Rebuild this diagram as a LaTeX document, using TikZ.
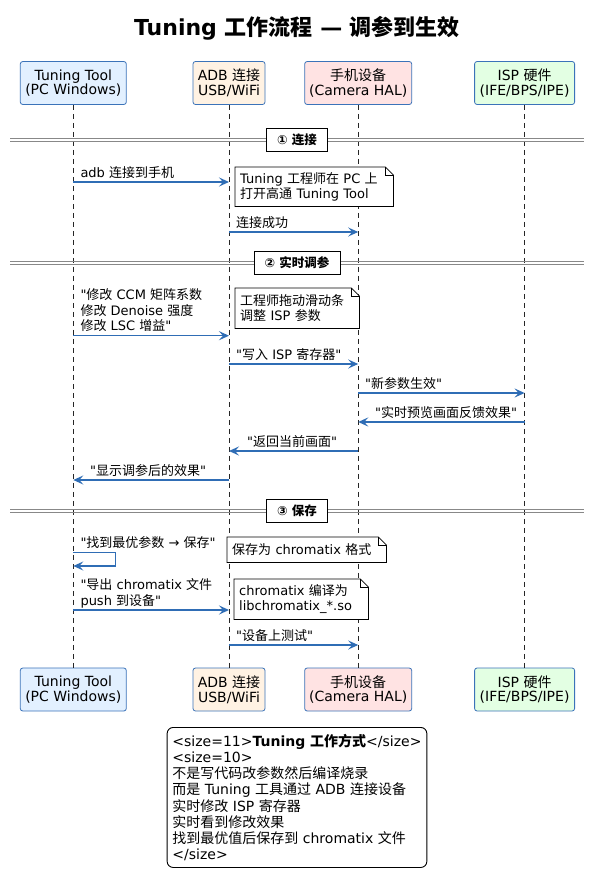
\documentclass[tikz,border=0pt]{standalone}
\usepackage{fontspec}
\setmainfont{DejaVu Sans}[Ligatures=TeXOff]
\newfontfamily\cjkfont{Noto Sans CJK SC}
\usetikzlibrary{arrows.meta}
\XeTeXinterchartokenstate=1
\newXeTeXintercharclass\CJKcls
\newcount\cjkcnt
\cjkcnt="4E00
\loop \XeTeXcharclass\cjkcnt=\CJKcls \ifnum\cjkcnt<"9FFF \advance\cjkcnt by 1 \repeat
\XeTeXinterchartoks 0 \CJKcls = {\cjkfont}
\XeTeXinterchartoks 4095 \CJKcls = {\cjkfont}
\XeTeXinterchartoks \CJKcls 0 = {\rmfamily}
\XeTeXinterchartoks \CJKcls 4095 = {\rmfamily}
\definecolor{pborder}{HTML}{3B73B9}
\definecolor{ttfill}{HTML}{E2F0FF}
\definecolor{adbfill}{HTML}{FFF2E3}
\definecolor{phfill}{HTML}{FFE3E3}
\definecolor{ispfill}{HTML}{E3FFE3}
\definecolor{arrowblue}{HTML}{2F6DB5}
\definecolor{divgray}{HTML}{888888}
\tikzset{
  part/.style={draw=pborder, line width=0.8pt, rounded corners=2.5pt, align=center, inner sep=0pt, minimum height=43pt, font=\fontsize{14}{14.7}\selectfont},
  lifeline/.style={draw=black!85, line width=0.7pt, dash pattern=on 5pt off 4pt},
  divline/.style={draw=divgray, line width=0.8pt},
  divlabel/.style={draw=black, fill=white, line width=0.8pt, inner xsep=10.5pt, inner ysep=0pt, minimum height=23pt, font=\fontsize{12.5}{14}\selectfont\bfseries},
  msg/.style={draw=arrowblue, line width=1.5pt, -{Stealth[length=10pt,width=9pt,inset=4pt]}},
  msglabel/.style={font=\fontsize{13}{15.6}\selectfont, align=left, inner sep=0pt, anchor=base west},
  note/.style={font=\fontsize{13}{15.6}\selectfont, align=left, inner xsep=5pt, inner ysep=0pt, anchor=north west},
  noteline/.style={draw=black, fill=white, line width=0.8pt}
}
\newcommand{\notefold}[1]{\filldraw[noteline] (#1.north west) -- ([xshift=-8pt]#1.north east) -- ([yshift=-8pt]#1.north east) -- (#1.south east) -- (#1.south west) -- cycle;
  \draw[noteline, fill=none] ([xshift=-8pt]#1.north east) |- ([yshift=-8pt]#1.north east);}
\begin{document}
\begin{tikzpicture}[x=1pt,y=-1pt]
\useasboundingbox (0,0) rectangle (594,878);
\fill[white] (0,0) rectangle (594,878);
% title
\node[font=\fontsize{22}{26}\selectfont\bfseries] (title) at (297,28) {Tuning 工作流程 — 调参到生效};
% participants top
\node[part, fill=ttfill, minimum width=106pt] (tt) at (73.3,83) {Tuning Tool\\(PC Windows)};
\node[part, fill=adbfill, minimum width=72pt] (adb) at (229,83) {ADB 连接\\USB/WiFi};
\node[part, fill=phfill, minimum width=107pt] (ph) at (358.2,83) {手机设备\\(Camera HAL)};
\node[part, fill=ispfill, minimum width=100pt] (isp) at (524.6,83) {ISP 硬件\\(IFE/BPS/IPE)};
% participants bottom
\node[part, fill=ttfill, minimum width=106pt] (ttb) at (73.3,689.5) {Tuning Tool\\(PC Windows)};
\node[part, fill=adbfill, minimum width=72pt] (adbb) at (229,689.5) {ADB 连接\\USB/WiFi};
\node[part, fill=phfill, minimum width=107pt] (phb) at (358.2,689.5) {手机设备\\(Camera HAL)};
\node[part, fill=ispfill, minimum width=100pt] (ispb) at (524.6,689.5) {ISP 硬件\\(IFE/BPS/IPE)};
% lifelines
\draw[lifeline] (tt.south) -- (ttb.north);
\draw[lifeline] (adb.south) -- (adbb.north);
\draw[lifeline] (ph.south) -- (phb.north);
\draw[lifeline] (isp.south) -- (ispb.north);
% dividers
\draw[divline] (10,138.5) -- (584,138.5);
\draw[divline] (10,141.5) -- (584,141.5);
\node[divlabel] (d1) at (297,140) {① 连接};
\draw[divline] (10,261.2) -- (584,261.2);
\draw[divline] (10,264.2) -- (584,264.2);
\node[divlabel] (d2) at (297,262.7) {② 实时调参};
\draw[divline] (10,509.2) -- (584,509.2);
\draw[divline] (10,512.2) -- (584,512.2);
\node[divlabel] (d3) at (297,510.7) {③ 保存};
% phase 1
\draw[msg] (tt |- 0,182) -- (adb |- 0,182);
\node[msglabel] (l1) at (80.3,177) {adb 连接到手机};
\node[note, minimum width=158pt, minimum height=39pt, text width=148pt] (n1) at (235,167) {};
\notefold{n1}
\node[note, minimum width=158pt, minimum height=39pt, text width=148pt] (n1t) at (235,167) {Tuning 工程师在 PC 上\\打开高通 Tuning Tool};
\draw[msg] (adb |- 0,232) -- (ph |- 0,232);
\node[msglabel] (l2) at (236,227) {连接成功};
% phase 2
\draw[msg] (tt |- 0,335.7) -- (adb |- 0,335.7);
\node[msglabel] (l3) at (80.3,330.7) {"修改 CCM 矩阵系数\\修改 Denoise 强度\\修改 LSC 增益"};
\node[note, minimum width=124pt, minimum height=40pt, text width=114pt] (n2) at (235,288) {};
\notefold{n2}
\node[note, minimum width=124pt, minimum height=40pt, text width=114pt] (n2t) at (235,288) {工程师拖动滑动条\\调整 ISP 参数};
\draw[msg] (adb |- 0,364) -- (ph |- 0,364);
\node[msglabel] (l4) at (236,359) {"写入 ISP 寄存器"};
\draw[msg] (ph |- 0,393) -- (isp |- 0,393);
\node[msglabel] (l5) at (365,388) {"新参数生效"};
\draw[msg] (isp |- 0,422) -- (ph |- 0,422);
\node[msglabel] (l6) at (375,417) {"实时预览画面反馈效果"};
\draw[msg] (ph |- 0,451) -- (adb |- 0,451);
\node[msglabel] (l7) at (247,446) {"返回当前画面"};
\draw[msg] (adb |- 0,480) -- (tt |- 0,480);
\node[msglabel] (l8) at (90,475) {"显示调参后的效果"};
% phase 3
\coordinate (s1) at (115.5,552.7);
\coordinate (s2) at (115.5,566);
\draw[msg] (tt |- s1) -- (s1) -- (s2) -- (tt |- s2);
\node[msglabel] (l9) at (80.3,547.5) {"找到最优参数 → 保存"};
\node[note, minimum width=159pt, minimum height=25pt, text width=149pt] (n3) at (227,537) {};
\notefold{n3}
\node[note, minimum width=159pt, minimum height=25pt, text width=149pt] (n3t) at (227,537) {保存为 chromatix 格式};
\draw[msg] (tt |- 0,610) -- (adb |- 0,610);
\node[msglabel] (l10) at (80.3,605.2) {"导出 chromatix 文件\\push 到设备"};
\node[note, minimum width=134pt, minimum height=40pt, text width=124pt] (n4) at (234,579) {};
\notefold{n4}
\node[note, minimum width=134pt, minimum height=40pt, text width=124pt] (n4t) at (234,579) {chromatix 编译为\\libchromatix\_*.so};
\draw[msg] (adb |- 0,645) -- (ph |- 0,645);
\node[msglabel] (l11) at (236,640) {"设备上测试"};
% legend
\node[draw=black, line width=0.9pt, rounded corners=6pt, align=left, inner xsep=5.3pt, inner ysep=0pt, minimum height=140pt, anchor=north west, font=\fontsize{14}{16.2}\selectfont] (legend) at (166.7,727) {<size=11>\textbf{Tuning 工作方式}</size>\\<size=10>\\不是写代码改参数然后编译烧录\\而是 Tuning 工具通过 ADB 连接设备\\实时修改 ISP 寄存器\\实时看到修改效果\\找到最优值后保存到 chromatix 文件\\</size>};
\end{tikzpicture}
\end{document}
